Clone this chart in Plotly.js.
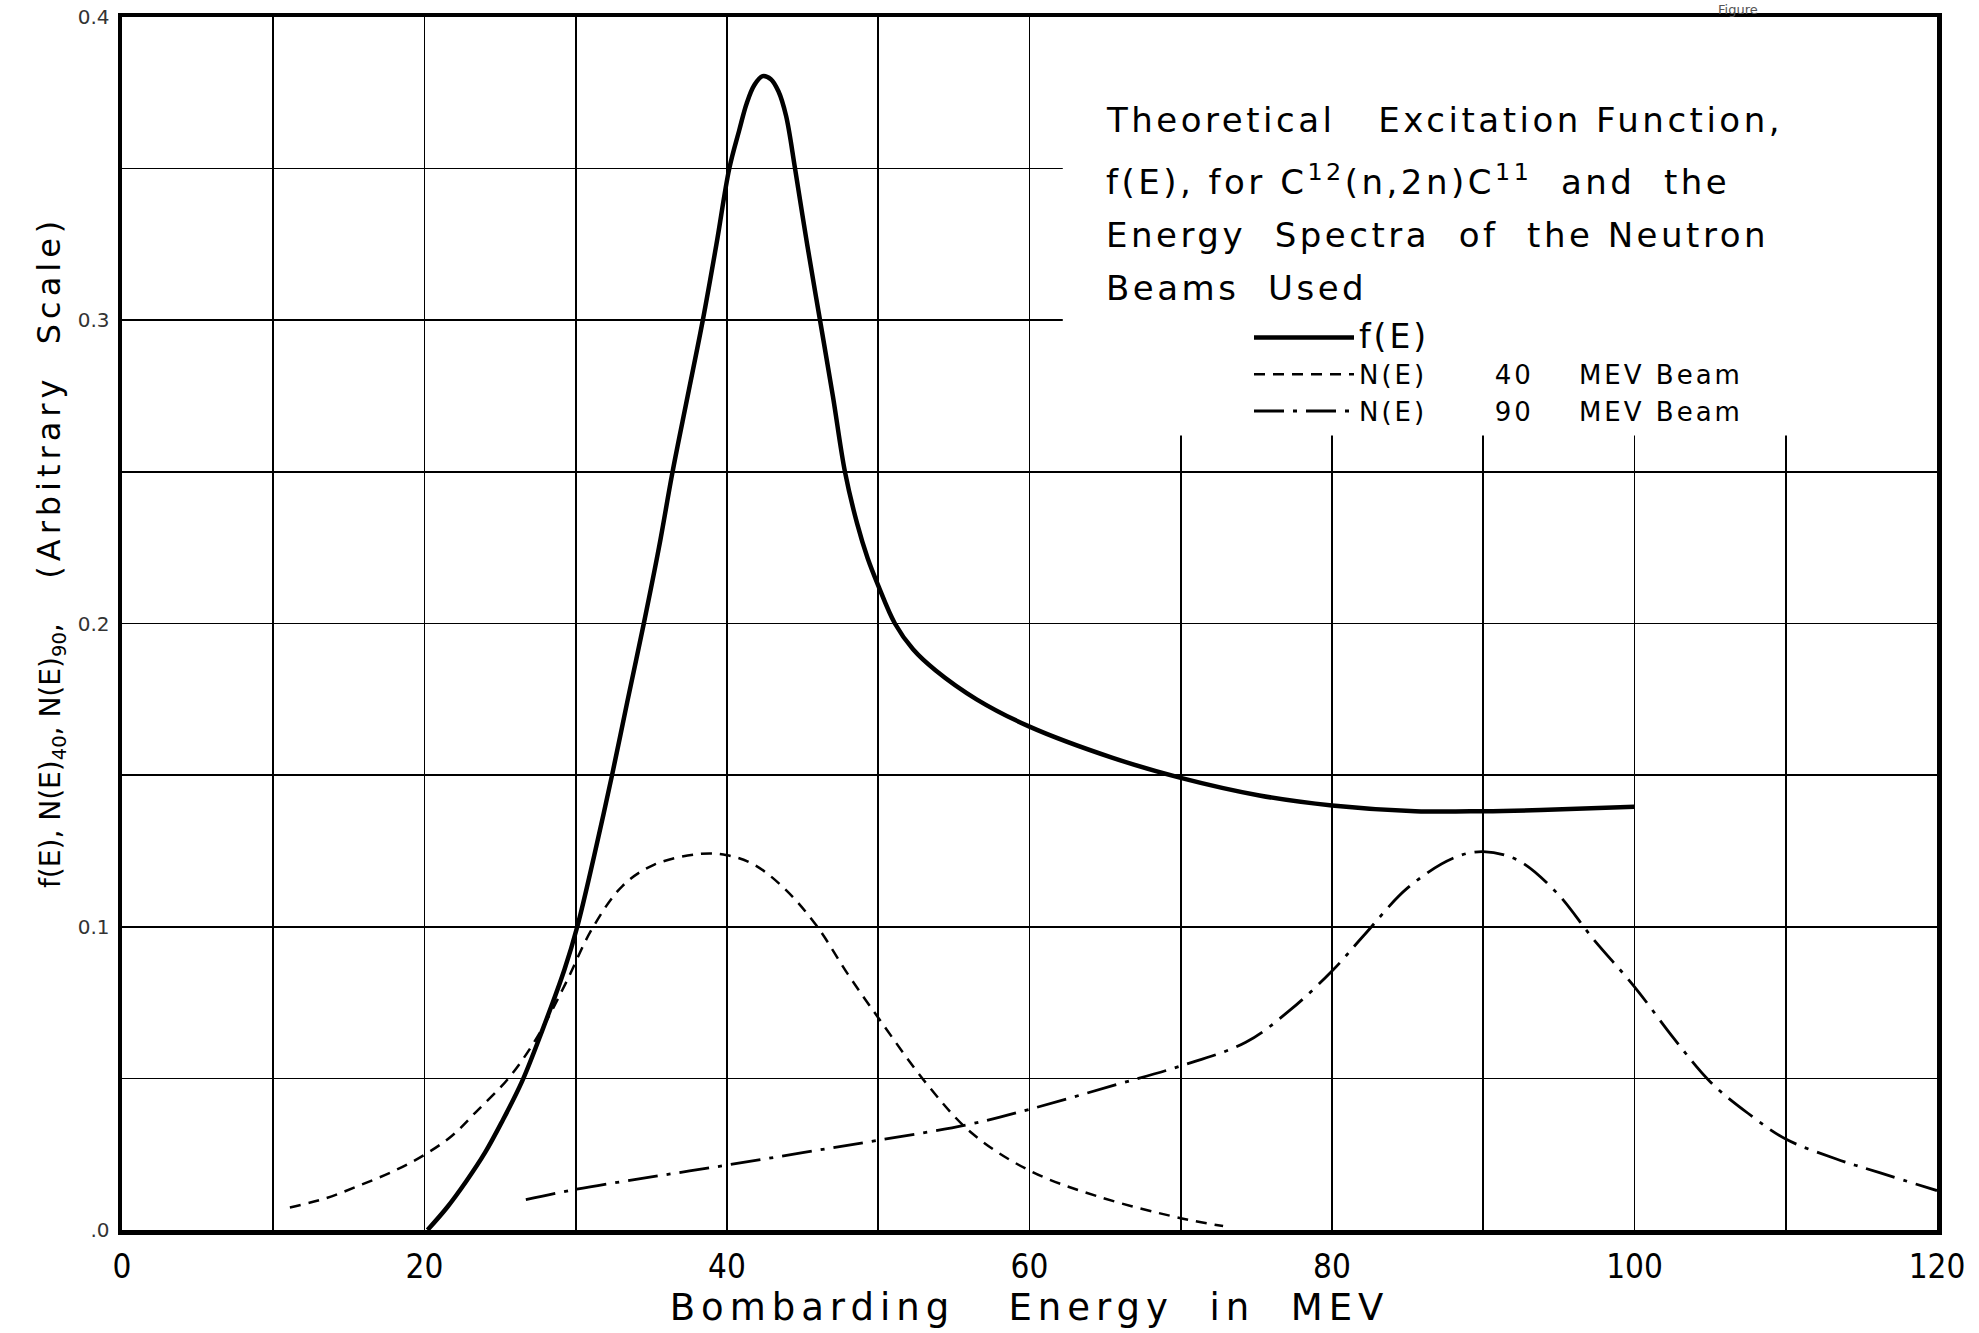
<!DOCTYPE html>
<html>
<head>
<meta charset="utf-8">
<script src="https://cdn.plot.ly/plotly-3.0.1.min.js"></script>
<style>html,body{margin:0;padding:0;background:#fff;}#chart{width:1979px;height:1333px;}</style>
</head>
<body>
<div id="chart"></div>
<script>
// f(E): theoretical excitation function
const fE_x = [20.2, 21.5, 22.75, 24, 25.1, 26.45, 27.8, 29.26, 30.1, 31.2, 32.4, 33.4, 34.5, 35.5, 36.4, 37.4, 38.4, 39.3, 40.15, 40.8, 41.3, 41.8, 42.35, 42.9, 43.4, 43.9, 44.5, 45.3, 46.15, 47.0, 47.8, 48.6, 49.3, 50.0, 51.1, 52.3, 53.8, 56.5, 60, 65.5, 70, 75.2, 80, 85.5, 90, 93.8, 100];
const fE_y = [0, 0.0075, 0.016, 0.0255, 0.0355, 0.049, 0.066, 0.086, 0.1, 0.123, 0.15, 0.174, 0.2, 0.225, 0.25, 0.275, 0.3, 0.325, 0.35, 0.3625, 0.3715, 0.3775, 0.3805, 0.3795, 0.3755, 0.3675, 0.35, 0.325, 0.3, 0.275, 0.25, 0.233, 0.2215, 0.2125, 0.2, 0.1915, 0.1845, 0.175, 0.166, 0.1557, 0.1491, 0.1433, 0.14, 0.1381, 0.1381, 0.1385, 0.1396];

// N(E) for the 40 MEV beam
const n40_x = [11.1, 13.5, 15.7, 18, 20, 21.8, 23.4, 25.6, 27.5, 29.3, 31.1, 33.1, 35.2, 38.2, 40, 41.75, 43.8, 45.9, 48.0, 50, 53.3, 56.2, 60, 64.5, 70, 72.8];
const n40_y = [0.0074, 0.0105, 0.0147, 0.0195, 0.0248, 0.031, 0.0389, 0.0503, 0.064, 0.081, 0.0995, 0.1135, 0.1205, 0.124, 0.1236, 0.1206, 0.1126, 0.1005, 0.0843, 0.070, 0.0476, 0.0319, 0.0196, 0.0111, 0.0039, 0.0013];

// N(E) for the 90 MEV beam
const n90_x = [26.7, 30, 35, 40, 45, 50, 55.8, 60, 65.5, 70, 74.3, 77.2, 80, 82.1, 85, 88, 90, 92.3, 94.8, 97.3, 100, 102.6, 105, 107.5, 110, 113.3, 116.2, 120];
const n90_y = [0.010, 0.0134, 0.0175, 0.0214, 0.0255, 0.0296, 0.0346, 0.0398, 0.0476, 0.0541, 0.0619, 0.0724, 0.0854, 0.0971, 0.1128, 0.1226, 0.1248, 0.1219, 0.1115, 0.0958, 0.0802, 0.0632, 0.0489, 0.0385, 0.030, 0.0235, 0.0189, 0.013];

const xTickVals = [0, 20, 40, 60, 80, 100, 120];
const xTickText = ['0', '20', '40', '60', '80', '100', '120'];
const yTickVals = [0, 0.1, 0.2, 0.3, 0.4];
const yTickText = ['.0', '0.1', '0.2', '0.3', '0.4'];

const NB = '\u00A0';
const FONT = 'DejaVu Sans, Liberation Sans, sans-serif';
const CFONT = 'DejaVu Sans Condensed, DejaVu Sans, sans-serif';
const spaced = (t, ls) => '<span style="letter-spacing:' + ls + 'px">' + t + '</span>';

const seriesNames = [
  '<span style="font-size:33px;letter-spacing:3px">f(E)</span>',
  spaced('N(E)' + NB.repeat(6) + '40' + NB.repeat(4) + 'MEV' + NB + 'Beam', 3),
  spaced('N(E)' + NB.repeat(6) + '90' + NB.repeat(4) + 'MEV' + NB + 'Beam', 3)
];
const titleLines = [
  'Theoretical' + NB.repeat(3) + 'Excitation Function,',
  'f(E),' + NB + 'for' + NB + 'C<sup>12</sup>(n,2n)C<sup>11</sup>' + NB.repeat(2) + 'and' + NB.repeat(2) + 'the',
  'Energy' + NB.repeat(2) + 'Spectra' + NB.repeat(2) + 'of' + NB.repeat(2) + 'the Neutron',
  'Beams' + NB.repeat(2) + 'Used'
];
const yTitle = 'f(E),' + NB + 'N(E)<sub>40</sub>,' + NB + 'N(E)<sub>90</sub>,' + NB.repeat(5) +
               '<span style="font-size:32px;letter-spacing:5px">(Arbitrary' + NB.repeat(2) + 'Scale)</span>';

const traces = [
  {x: fE_x, y: fE_y, name: seriesNames[0], type: 'scatter', mode: 'lines',
   line: {color: '#000', width: 4.5, shape: 'spline', smoothing: 1}},
  {x: n40_x, y: n40_y, name: seriesNames[1], type: 'scatter', mode: 'lines',
   line: {color: '#000', width: 2.5, dash: '11px,8px', shape: 'spline', smoothing: 1}},
  {x: n90_x, y: n90_y, name: seriesNames[2], type: 'scatter', mode: 'lines',
   line: {color: '#000', width: 2.8, dash: '30px,9px,4px,9px', shape: 'spline', smoothing: 1}}
];

const titleY = [120, 180, 235, 288];
const annotations = titleLines.map((t, i) => ({
  xref: 'paper', yref: 'paper', x: (1104 - 122) / 1815, y: (1230 - titleY[i]) / 1213,
  xanchor: 'left', yanchor: 'middle', showarrow: false, align: 'left',
  text: spaced(t, 3.5), font: {family: FONT, size: 34, color: '#000'}
}));
// y-axis title, placed where the reference has it
annotations.push({xref: 'paper', yref: 'paper', x: (50 - 122) / 1815, y: (1230 - 552) / 1213,
  xanchor: 'center', yanchor: 'middle', textangle: -90, showarrow: false,
  text: yTitle, font: {family: FONT, size: 28, color: '#000'}});
annotations.push({xref: 'paper', yref: 'paper', x: (1716 - 122) / 1815, y: 1230 / 1213,
  xanchor: 'left', yanchor: 'top', showarrow: false,
  text: 'Figure', font: {family: FONT, size: 13, color: '#555'}});

const layout = {
  width: 1979, height: 1333,
  margin: {l: 122, r: 42, t: 17, b: 103},
  paper_bgcolor: '#fff', plot_bgcolor: '#fff',
  showlegend: true,
  legend: {x: (1249 - 122) / 1815, y: (1230 - 314) / 1213, xanchor: 'left', yanchor: 'top',
           bgcolor: 'rgba(0,0,0,0)', borderwidth: 0,
           font: {family: FONT, size: 26, color: '#000'}, itemwidth: 100, tracegroupgap: 0},
  xaxis: {range: [0, 120], tickvals: xTickVals, ticktext: xTickText,
          showgrid: true, gridcolor: '#000', gridwidth: 1.6,
          minor: {tickvals: [10, 30, 50, 70, 90, 110], showgrid: true, gridcolor: '#000', gridwidth: 1.6},
          showline: true, linecolor: '#000', linewidth: 4.5, mirror: true,
          zeroline: false, ticks: '', ticklabelstandoff: 4,
          tickfont: {family: CFONT, size: 33, color: '#000'},
          title: {text: spaced('Bombarding' + NB.repeat(3) + 'Energy' + NB.repeat(2) + 'in' + NB.repeat(2) + 'MEV', 6),
                  font: {family: FONT, size: 37, color: '#000'}, standoff: 4}},
  yaxis: {range: [0, 0.4], tickvals: yTickVals, ticktext: yTickText,
          showgrid: true, gridcolor: '#000', gridwidth: 1.6,
          minor: {tickvals: [0.05, 0.15, 0.25, 0.35], showgrid: true, gridcolor: '#000', gridwidth: 1.6},
          showline: true, linecolor: '#000', linewidth: 4.5, mirror: true,
          zeroline: false, ticks: '', ticklabelstandoff: 4,
          tickfont: {family: FONT, size: 20, color: '#333'}},
  shapes: [
    {type: 'rect', xref: 'x', yref: 'y', x0: 62.2, x1: 120, y0: 0.262, y1: 0.4,
     fillcolor: '#fff', line: {width: 0}, layer: 'between'}
  ],
  annotations: annotations
};

Plotly.newPlot('chart', traces, layout, {staticPlot: true});
</script>
</body>
</html>
